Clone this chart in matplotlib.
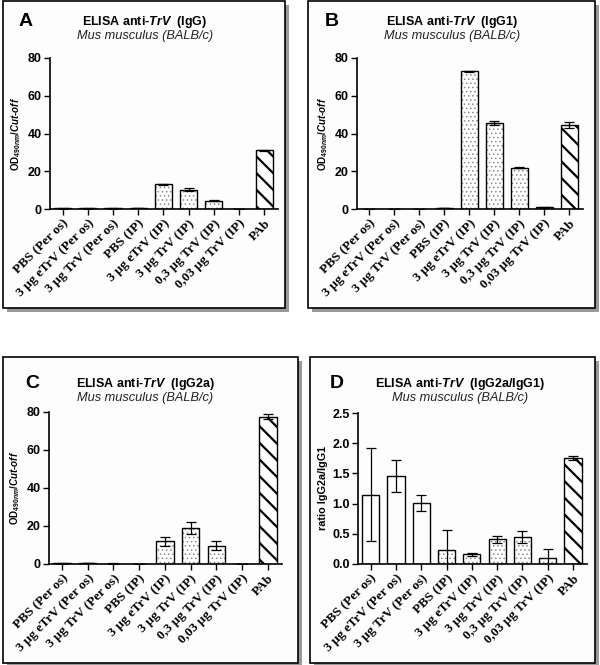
import matplotlib.pyplot as plt
from matplotlib.patches import Rectangle

plt.rcParams['font.family'] = ['Liberation Sans', 'DejaVu Sans']
plt.rcParams['mathtext.fontset'] = 'custom'
plt.rcParams['mathtext.rm'] = 'Liberation Sans:bold'
plt.rcParams['mathtext.it'] = 'Liberation Sans:bold:italic'
plt.rcParams['mathtext.bf'] = 'Liberation Sans:bold'
plt.rcParams['hatch.linewidth'] = 1.6

groups = ['PBS (Per os)', '3 µg eTrV (Per os)', '3 µg TrV (Per os)', 'PBS (IP)',
          '3 µg eTrV (IP)', '3 µg TrV (IP)', '0,3 µg TrV (IP)', '0,03 µg TrV (IP)', 'PAb']
kind = ['oral', 'oral', 'oral', 'ip', 'ip', 'ip', 'ip', 'ip', 'pab']

igg = [0.3, 0.3, 0.3, 0.5, 13.0, 10.3, 4.5, 0.2, 31.0]
igg_err = [0.1, 0.1, 0.1, 0.1, 0.2, 1.0, 0.5, 0.0, 0.5]
igg1 = [0.2, 0.1, 0.1, 0.4, 73.0, 45.5, 21.8, 1.0, 44.5]
igg1_err = [0.0, 0.0, 0.0, 0.1, 0.3, 1.2, 0.3, 0.3, 1.5]
igg2a = [0.3, 0.4, 0.2, 0.1, 12.0, 19.0, 9.7, 0.0, 77.5]
igg2a_err = [0.1, 0.1, 0.1, 0.0, 2.3, 3.0, 2.3, 0.0, 1.2]
ratio = [1.15, 1.46, 1.01, 0.24, 0.16, 0.41, 0.44, 0.10, 1.75]
ratio_err = [0.77, 0.27, 0.13, 0.33, 0.03, 0.06, 0.10, 0.15, 0.03]

W, H = 600, 665
fig = plt.figure(figsize=(W / 100, H / 100), dpi=100)


def box(x0, y0, x1, y1):
    # grey shadow then black frame (pixel coords, y downwards)
    fig.patches.append(Rectangle((x0 / W + 4 / W, 1 - y1 / H - 4 / H), (x1 - x0) / W, (y1 - y0) / H,
                                 transform=fig.transFigure, facecolor='#9a9a9a', edgecolor='none',
                                 zorder=-3))
    fig.patches.append(Rectangle((x0 / W, 1 - y1 / H), (x1 - x0) / W, (y1 - y0) / H,
                                 transform=fig.transFigure, facecolor='#fdfdfd', edgecolor='black',
                                 lw=1.2, zorder=-2))


def panel(rect, vals, errs, letter, title, ylabel, ymax, ystep, lpos, tpos, fmt, ylsize=7):
    left, top, right, bottom = rect
    ax = fig.add_axes([left / W, 1 - bottom / H, (right - left) / W, (bottom - top) / H])
    ax.patch.set_visible(False)
    x = list(range(len(vals)))
    for i, (v, e, k) in enumerate(zip(vals, errs, kind)):
        if k == 'ip':
            with plt.rc_context({'hatch.linewidth': 0.6}):
                ax.bar(i, v, width=0.68, color='white', edgecolor='#8a8a8a', hatch='....', lw=0)
        elif k == 'pab':
            ax.bar(i, v, width=0.68, color='white', edgecolor='black', hatch='\\\\', lw=0)
        ax.bar(i, v, width=0.68, color='none', edgecolor='black', lw=1.0)
    ax.errorbar(x, vals, yerr=errs, fmt='none', ecolor='black', elinewidth=0.9,
                capsize=3.5, capthick=0.9)
    ax.set_xlim(-0.5, 8.55)
    ax.set_ylim(0, ymax)
    ticks = [i * ystep for i in range(int(round(ymax / ystep)) + 1)]
    ax.set_yticks(ticks)
    ax.set_yticklabels([fmt.format(t) for t in ticks], fontsize=9, fontweight='bold')
    ax.set_xticks(x)
    ax.set_xticklabels(groups, rotation=45, ha='right', rotation_mode='anchor',
                       family=['Liberation Serif', 'DejaVu Serif'], fontsize=9.5, fontweight='bold')
    ax.spines['top'].set_visible(False)
    ax.spines['right'].set_visible(False)
    for s in ('left', 'bottom'):
        ax.spines[s].set_linewidth(1.2)
    ax.tick_params(width=1.0, length=4, pad=2)
    ax.set_ylabel(ylabel, fontsize=ylsize, fontweight='bold', labelpad=3)
    fig.text(lpos[0] / W, 1 - lpos[1] / H, letter, fontsize=14, fontweight='bold',
             ha='center', va='center')
    fig.text(tpos[0] / W, 1 - tpos[1] / H, title, fontsize=9, fontweight='bold',
             ha='center', va='center')
    fig.text(tpos[0] / W, 1 - (tpos[1] + 14) / H, 'Mus musculus (BALB/c)', fontsize=9.2,
             fontstyle='italic', ha='center', va='center', color='#222222')
    return ax


od_label = r'OD$_{490nm}$/$Cut$-$off$'

box(3, 1, 285, 308)
box(308, 1, 595, 308)
box(3, 357, 298, 663)
box(310, 357, 595, 663)

panel((50, 58, 278, 209), igg, igg_err, 'A', r'ELISA anti-$TrV$  (IgG)', od_label,
      80, 20, (26, 21), (145, 22), '{:.0f}')
panel((357, 58, 583, 209), igg1, igg1_err, 'B', r'ELISA anti-$TrV$  (IgG1)', od_label,
      80, 20, (332, 21), (452, 22), '{:.0f}')
panel((49, 412, 282, 564), igg2a, igg2a_err, 'C', r'ELISA anti-$TrV$  (IgG2a)', od_label,
      80, 20, (32, 384), (145, 384), '{:.0f}')
panel((358, 413, 587, 564), ratio, ratio_err, 'D', r'ELISA anti-$TrV$  (IgG2a/IgG1)',
      'ratio IgG2a/IgG1', 2.5, 0.5, (337, 384), (460, 384), '{:.1f}', ylsize=7.8)

fig.savefig('out.png', dpi=100, facecolor='white')
